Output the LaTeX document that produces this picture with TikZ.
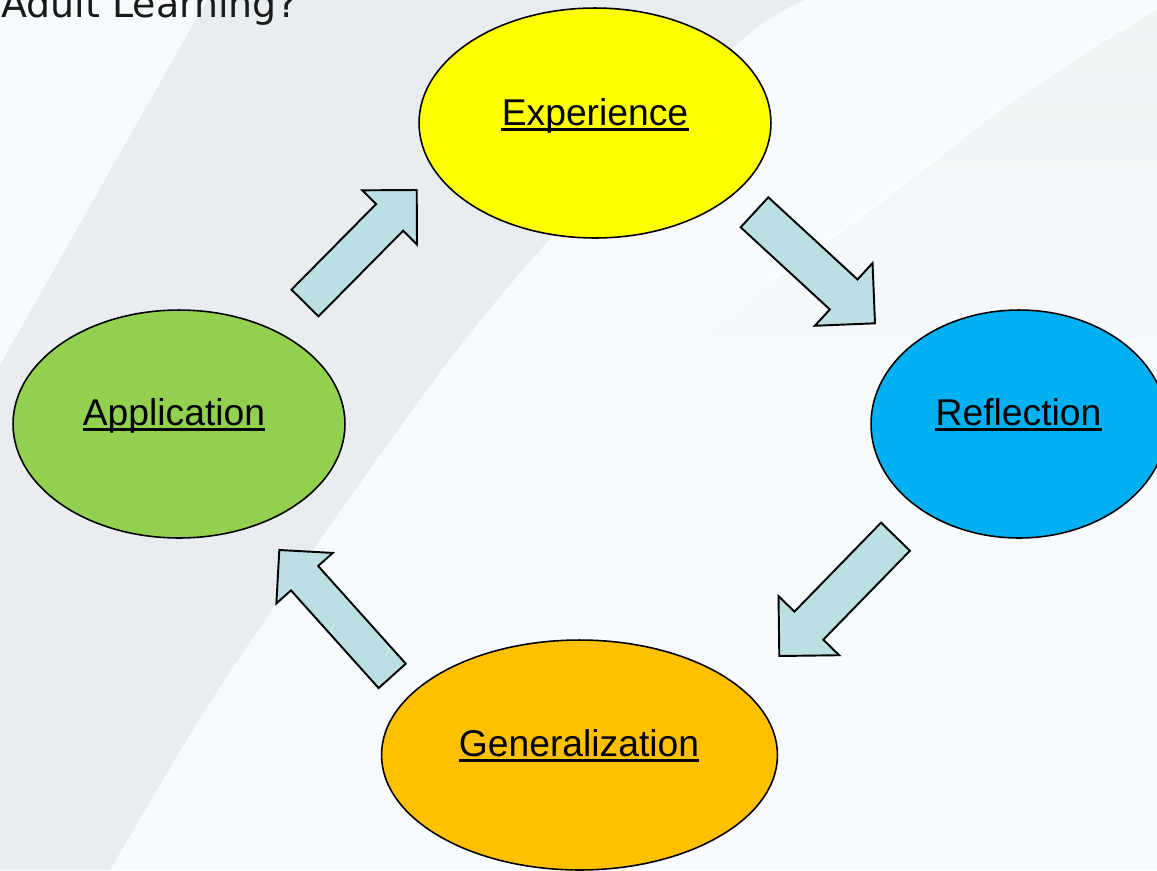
\documentclass[tikz,border=0pt]{standalone}
\usepackage{fontspec}
\setmainfont{Liberation Sans}
\newfontfamily\titlefont{DejaVu Sans}
\usetikzlibrary{shapes.geometric,calc}

\definecolor{bglight}{HTML}{F7FBFE}
\definecolor{bgband}{HTML}{E9EDF0}
\definecolor{bgfaint}{HTML}{F1F4F5}
\definecolor{expfill}{HTML}{FFFF00}
\definecolor{reffill}{HTML}{00B0F0}
\definecolor{appfill}{HTML}{92D050}
\definecolor{genfill}{HTML}{FFC000}
\definecolor{arrowfill}{HTML}{BAE0E3}
\definecolor{titletext}{HTML}{1A1A1A}

% block arrow from tail #1 to tip #2, shaft half width #3, head half width #4 (90 degree tip)
\newcommand\blockarrow[4]{%
  \coordinate (#1-hb) at ($(#2)!#4!(#1)$);
  \draw[flow] ($(#1)!#3!90:(#2)$) -- ($(#1-hb)!#3!90:(#2)$) -- ($(#1-hb)!#4!90:(#2)$)
    -- (#2) -- ($(#1-hb)!#4!-90:(#2)$) -- ($(#1-hb)!#3!-90:(#2)$)
    -- ($(#1)!#3!-90:(#2)$) -- cycle;}

\begin{document}
\begin{tikzpicture}[x=0.02cm,y=-0.02cm,
  stage/.style={ellipse, draw=black, line width=0.9pt, inner sep=0pt, outer sep=0pt},
  stagelabel/.style={anchor=base, inner sep=0pt, font=\fontsize{21.2}{25}\selectfont, text=black},
  flow/.style={fill=arrowfill, draw=black, line width=1.1pt, line join=miter},
  underl/.style={line width=1.5pt}]
\useasboundingbox (0,0) rectangle (1157,870);
\clip (0,0) rectangle (1157,870);

% backdrop
\fill[bglight] (0,0) rectangle (1157,870);
\shade[top color=bgfaint, bottom color=bglight]
  plot[smooth] coordinates {(1157,8) (1017,97) (883,200) (767,283) (680,355) (600,430)}
  -- (1157,430) -- cycle;
\draw[white, line width=1.2pt, opacity=0.6]
  plot[smooth] coordinates {(1157,8) (1017,97) (883,200) (767,283)};
\fill[bgband] (207,0) -- plot[smooth] coordinates {(805,0) (750,33) (645,137) (540,250) (467,337) (400,427) (320,540) (207,707) (110,870)}
  -- (0,870) -- (0,365) -- cycle;

% heading
\node[anchor=base west, inner sep=0pt, text=titletext, font=\titlefont\fontsize{21.6}{26}\selectfont] (title) at (1,17) {Adult Learning?};

% arrow end points
\coordinate (t1) at (305,303);   \coordinate (h1) at (416.7,190);
\coordinate (t2) at (754.5,212.3); \coordinate (h2) at (875,323.3);
\coordinate (t3) at (895.5,536.7); \coordinate (h3) at (779.3,656);
\coordinate (t4) at (392.2,675.9); \coordinate (h4) at (279.3,550);

\blockarrow{t1}{h1}{0.38cm}{0.77cm}
\blockarrow{t2}{h2}{0.408cm}{0.852cm}
\blockarrow{t3}{h3}{0.403cm}{0.847cm}
\blockarrow{t4}{h4}{0.365cm}{0.757cm}

% stages of the cycle
\node[stage, fill=expfill, minimum width=7.04cm, minimum height=4.6cm] (exp) at (595,123) {};
\node[stage, fill=reffill, minimum width=5.92cm, minimum height=4.56cm] (ref) at (1019,424) {};
\node[stage, fill=appfill, minimum width=6.64cm, minimum height=4.56cm] (app) at (179,424) {};
\node[stage, fill=genfill, minimum width=7.92cm, minimum height=4.6cm] (gen) at (579.5,755) {};

\node[stagelabel] (explbl) at (595,125) {Experience};
\node[stagelabel] (reflbl) at (1018.5,425) {Reflection};
\node[stagelabel] (applbl) at (174,425) {Application};
\node[stagelabel] (genlbl) at (579,756) {Generalization};

\foreach \n in {explbl,reflbl,applbl,genlbl}
  \draw[underl] ([yshift=-2.4pt]\n.base west) -- ([yshift=-2.4pt]\n.base east);
\end{tikzpicture}
\end{document}
